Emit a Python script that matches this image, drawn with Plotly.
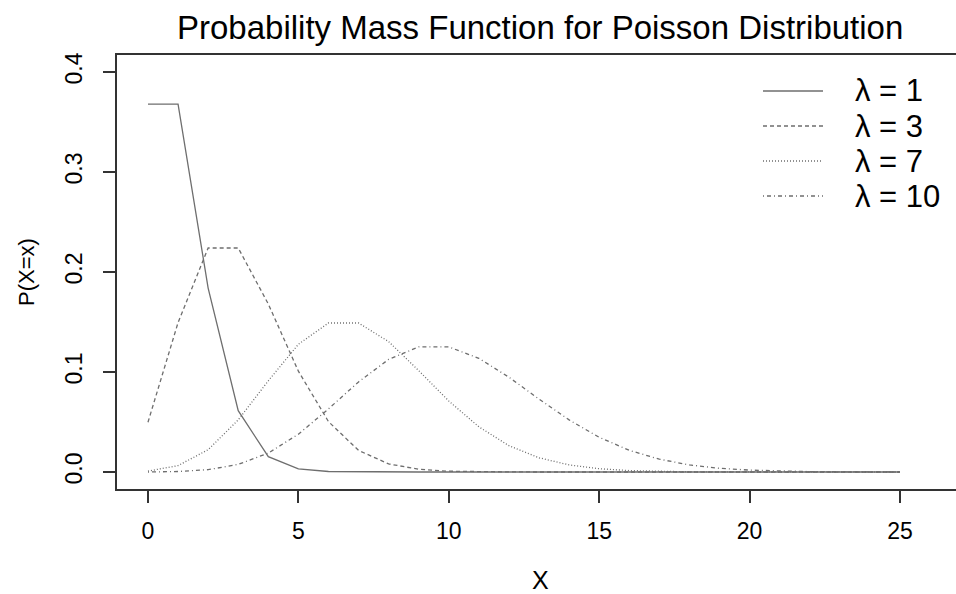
import plotly.graph_objects as go

x_vals = list(range(26))
pmf_l1 = [0.3679, 0.3679, 0.1839, 0.0613, 0.0153, 0.0031, 0.0005, 0.0001, 0.0000, 0.0000,
          0.0000, 0.0000, 0.0000, 0.0000, 0.0000, 0.0000, 0.0000, 0.0000, 0.0000, 0.0000,
          0.0000, 0.0000, 0.0000, 0.0000, 0.0000, 0.0000]
pmf_l3 = [0.0498, 0.1494, 0.2240, 0.2240, 0.1680, 0.1008, 0.0504, 0.0216, 0.0081, 0.0027,
          0.0008, 0.0002, 0.0001, 0.0000, 0.0000, 0.0000, 0.0000, 0.0000, 0.0000, 0.0000,
          0.0000, 0.0000, 0.0000, 0.0000, 0.0000, 0.0000]
pmf_l7 = [0.0009, 0.0064, 0.0223, 0.0521, 0.0912, 0.1277, 0.1490, 0.1490, 0.1304, 0.1014,
          0.0710, 0.0452, 0.0263, 0.0142, 0.0071, 0.0033, 0.0014, 0.0006, 0.0002, 0.0001,
          0.0000, 0.0000, 0.0000, 0.0000, 0.0000, 0.0000]
pmf_l10 = [0.0000, 0.0005, 0.0023, 0.0076, 0.0189, 0.0378, 0.0631, 0.0901, 0.1126, 0.1251,
           0.1251, 0.1137, 0.0948, 0.0729, 0.0521, 0.0347, 0.0217, 0.0128, 0.0071, 0.0037,
           0.0019, 0.0009, 0.0004, 0.0002, 0.0001, 0.0000]
legend_labels = ["λ = 1", "λ = 3", "λ = 7", "λ = 10"]
x_ticks = [0, 5, 10, 15, 20, 25]
y_ticks = [0.0, 0.1, 0.2, 0.3, 0.4]
y_tick_text = ["0.0", "0.1", "0.2", "0.3", "0.4"]

series = [pmf_l1, pmf_l3, pmf_l7, pmf_l10]
dashes = ["solid", "4px,3px", "1px,2px", "1px,3px,4px,3px"]
line_color = "#6e6e6e"
narrow = "Liberation Sans Narrow, Arial Narrow, Liberation Sans, sans-serif"

W, H = 956, 594
L, R, T, B = 117, 0, 55, 105
pw, ph = W - L - R, H - T - B

fig = go.Figure()
for ys, d, name in zip(series, dashes, legend_labels):
    fig.add_trace(go.Scatter(x=x_vals, y=ys, mode="lines", name=name,
                             line=dict(color=line_color, width=1.3, dash=d),
                             showlegend=False))

# manual legend (R style)
shapes = []
annotations = []
leg_rows_px = [91, 126, 161, 196]
for (py, d, name) in zip(leg_rows_px, dashes, legend_labels):
    yp = (H - B - py) / ph
    shapes.append(dict(type="line", xref="paper", yref="paper",
                       x0=(763 - L) / pw, x1=(823 - L) / pw, y0=yp, y1=yp,
                       line=dict(color=line_color, width=1.3, dash=d)))
    annotations.append(dict(text=name, xref="paper", yref="paper",
                            x=(853 - L) / pw, y=yp, xanchor="left", yanchor="middle",
                            showarrow=False, font=dict(size=31, color="black")))

annotations.append(dict(text="Probability Mass Function for Poisson Distribution",
                        xref="paper", yref="paper", x=(540 - L) / pw, y=(H - B - 27) / ph,
                        xanchor="center", yanchor="middle", showarrow=False,
                        font=dict(size=33, color="black")))
annotations.append(dict(text="X", xref="paper", yref="paper", x=(540 - L) / pw,
                        y=(H - B - 580) / ph, xanchor="center", yanchor="middle",
                        showarrow=False, font=dict(size=25, color="black", family=narrow)))
annotations.append(dict(text="P(X=x)", xref="paper", yref="paper", x=(26 - L) / pw,
                        y=0.5, xanchor="center", yanchor="middle", textangle=-90,
                        showarrow=False, font=dict(size=22, color="black", family=narrow)))

fig.update_layout(
    width=W, height=H,
    margin=dict(l=L, r=R, t=T, b=B),
    paper_bgcolor="white", plot_bgcolor="white",
    font=dict(family="Liberation Sans, Arial, sans-serif", color="black"),
    shapes=shapes, annotations=annotations,
    xaxis=dict(range=[-1.03, -1.03 + pw / 30.08], tickvals=x_ticks,
               showgrid=False, zeroline=False, showline=True, mirror=True,
               linecolor="#333333", linewidth=2, ticks="outside", ticklen=12,
               tickwidth=2, tickcolor="#333333",
               tickfont=dict(size=23, family=narrow),
               ticklabelstandoff=8),
    yaxis=dict(range=[-0.017, 0.417], tickvals=y_ticks, ticktext=y_tick_text,
               showgrid=False, zeroline=False, showline=True, mirror=False,
               linecolor="#333333", linewidth=2, ticks="outside", ticklen=12,
               tickwidth=2, tickcolor="#333333",
               tickfont=dict(size=23, family=narrow),
               tickangle=-90, ticklabelstandoff=12),
)

fig.write_html("out.html", config={"displayModeBar": False},
               post_script="document.body.style.margin='0';document.body.style.overflow='hidden';")
